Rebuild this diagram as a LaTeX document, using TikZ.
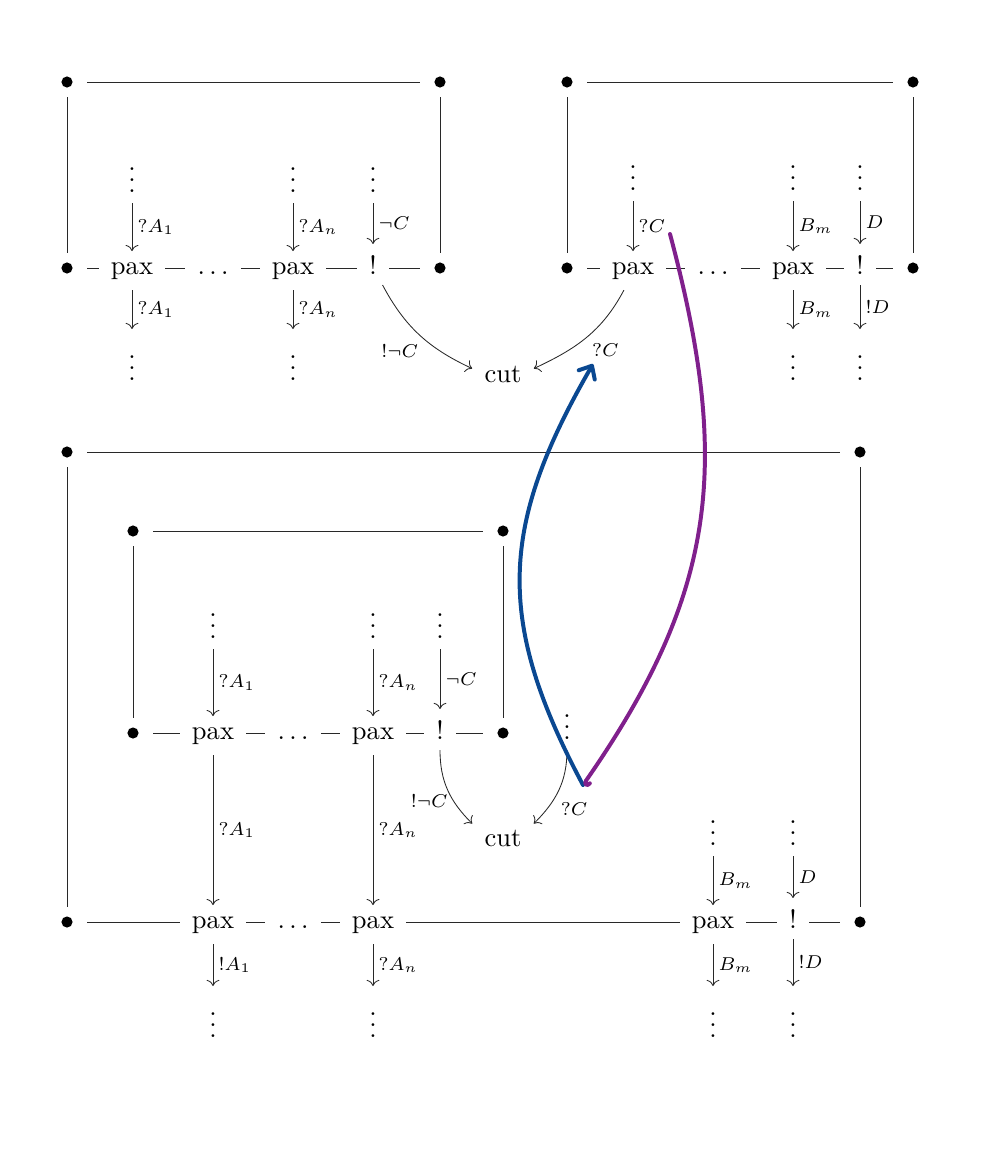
\documentclass[tikz,border=0pt]{standalone}
\usetikzlibrary{arrows.meta}
\definecolor{arcblue}{RGB}{10,72,145}
\definecolor{arcpurple}{RGB}{128,32,140}
\definecolor{linegray}{RGB}{40,40,40}
\begin{document}
\begin{tikzpicture}[x=0.377pt, y=-0.377pt, line width=0.32pt, draw=linegray,
  cell/.style={inner xsep=4.5pt, inner ysep=4pt, anchor=base},
  dot/.style={rectangle, inner sep=0pt, minimum width=15pt, minimum height=11pt,
    path picture={\fill[black] (path picture bounding box.center) circle (2.1pt);}},
  lab/.style={font=\scriptsize, inner sep=2pt},
  rl/.style={lab, anchor=west},
  arcb/.style={draw=arcblue, line width=1.5pt, line cap=round},
  arcp/.style={draw=arcpurple, line width=1.5pt, line cap=round}
]
\useasboundingbox (0,0) rectangle (1000,1150);

% ---------- top-left box ----------
\node[dot] (a1) at (67,82) {};
\node[dot] (a2) at (440,82) {};
\node[dot] (a3) at (67,268) {};
\node[dot] (a4) at (440,268) {};
\node[cell] (av1) at (132,192) {$\vdots$};
\node[cell] (av2) at (293,192) {$\vdots$};
\node[cell] (av3) at (373,192) {$\vdots$};
\node[cell] (ap1) at (132,274) {pax};
\node[cell] (adt) at (213,274) {$\dots$};
\node[cell] (ap2) at (293,274) {pax};
\node[cell] (ab) at (373,274) {!};
\node[cell] (aw1) at (132,380) {$\vdots$};
\node[cell] (aw2) at (293,380) {$\vdots$};
\node[cell] (cut1) at (503,382) {cut};

\draw (a1) -- (a2);
\draw (a1) -- (a3);
\draw (a2) -- (a4);
\draw (a3) -- (ap1.west |- a3);
\draw (ap1.east |- a3) -- (adt.west |- a3);
\draw (adt.east |- a3) -- (ap2.west |- a3);
\draw (ap2.east |- a3) -- (ab.west |- a3);
\draw (ab.east |- a3) -- (a4);
\draw[->] (av1) -- node[rl]{$?A_1$} (ap1);
\draw[->] (av2) -- node[rl]{$?A_n$} (ap2);
\draw[->] (av3) -- node[rl]{$\neg C$} (ab);
\draw[->] (ap1) -- node[rl]{$?A_1$} (aw1);
\draw[->] (ap2) -- node[rl]{$?A_n$} (aw2);
\draw[->] (ab.-65) to[out=-62,in=155] node[lab, pos=0.55, anchor=north east]{$!\neg C$} (cut1.170);

% ---------- top-right box ----------
\node[dot] (b1) at (567,82) {};
\node[dot] (b2) at (913,82) {};
\node[dot] (b3) at (567,268) {};
\node[dot] (b4) at (913,268) {};
\node[cell] (bv1) at (633,190) {$\vdots$};
\node[cell] (bv2) at (793,190) {$\vdots$};
\node[cell] (bv3) at (860,190) {$\vdots$};
\node[cell] (bp1) at (633,274) {pax};
\node[cell] (bdt) at (713,274) {$\dots$};
\node[cell] (bp2) at (793,274) {pax};
\node[cell] (bb) at (860,274) {!};
\node[cell] (bw2) at (793,380) {$\vdots$};
\node[cell] (bw3) at (860,380) {$\vdots$};

\draw (b1) -- (b2);
\draw (b1) -- (b3);
\draw (b2) -- (b4);
\draw (b3) -- (bp1.west |- b3);
\draw (bp1.east |- b3) -- (bdt.west |- b3);
\draw (bdt.east |- b3) -- (bp2.west |- b3);
\draw (bp2.east |- b3) -- (bb.west |- b3);
\draw (bb.east |- b3) -- (b4);
\draw[->] (bv1) -- node[rl]{$?C$} (bp1);
\draw[->] (bv2) -- node[rl]{$B_m$} (bp2);
\draw[->] (bv3) -- node[rl]{$D$} (bb);
\draw[->] (bp2) -- node[rl]{$B_m$} (bw2);
\draw[->] (bb) -- node[rl]{$!D$} (bw3);
\draw[->] (bp1.-115) to[out=-118,in=25] node[lab, pos=0.5, anchor=north west]{$?C$} (cut1.10);

% ---------- bottom box ----------
\node[dot] (c1) at (67,452) {};
\node[dot] (c2) at (860,452) {};
\node[dot] (c3) at (67,922) {};
\node[dot] (c4) at (860,922) {};
\node[dot] (i1) at (133,531) {};
\node[dot] (i2) at (503,531) {};
\node[dot] (i3) at (133,733) {};
\node[dot] (i4) at (503,733) {};
\node[cell] (iv1) at (213,638) {$\vdots$};
\node[cell] (iv2) at (373,638) {$\vdots$};
\node[cell] (iv3) at (440,638) {$\vdots$};
\node[cell] (ip1) at (213,739) {pax};
\node[cell] (idt) at (293,739) {$\dots$};
\node[cell] (ip2) at (373,739) {pax};
\node[cell] (ib) at (440,739) {!};
\node[cell] (iv4) at (567,739) {$\vdots$};
\node[cell] (cut2) at (503,846) {cut};
\node[cell] (cv1) at (713,845) {$\vdots$};
\node[cell] (cv2) at (793,845) {$\vdots$};
\node[cell] (cp1) at (213,928) {pax};
\node[cell] (cdt) at (293,928) {$\dots$};
\node[cell] (cp2) at (373,928) {pax};
\node[cell] (cp3) at (713,928) {pax};
\node[cell] (cb) at (793,928) {!};
\node[cell] (cw1) at (213,1037) {$\vdots$};
\node[cell] (cw2) at (373,1037) {$\vdots$};
\node[cell] (cw3) at (713,1037) {$\vdots$};
\node[cell] (cw4) at (793,1037) {$\vdots$};

\draw (c1) -- (c2);
\draw (c1) -- (c3);
\draw (c2) -- (c4);
\draw (i1) -- (i2);
\draw (i1) -- (i3);
\draw (i2) -- (i4);
\draw (i3) -- (ip1.west |- i3);
\draw (ip1.east |- i3) -- (idt.west |- i3);
\draw (idt.east |- i3) -- (ip2.west |- i3);
\draw (ip2.east |- i3) -- (ib.west |- i3);
\draw (ib.east |- i3) -- (i4);
\draw (c3) -- (cp1.west |- c3);
\draw (cp1.east |- c3) -- (cdt.west |- c3);
\draw (cdt.east |- c3) -- (cp2.west |- c3);
\draw (cp2.east |- c3) -- (cp3.west |- c3);
\draw (cp3.east |- c3) -- (cb.west |- c3);
\draw (cb.east |- c3) -- (c4);

\draw[->] (iv1) -- node[rl]{$?A_1$} (ip1);
\draw[->] (iv2) -- node[rl]{$?A_n$} (ip2);
\draw[->] (iv3) -- node[rl]{$\neg C$} (ib);
\draw[->] (ip1) -- node[rl]{$?A_1$} (cp1);
\draw[->] (ip2) -- node[rl]{$?A_n$} (cp2);
\draw[->] (ib.south) to[out=-90,in=135] node[lab, pos=0.65, anchor=east]{$!\neg C$} (cut2.155);
\draw[->] (iv4.south) to[out=-90,in=45] node[lab, pos=0.6, anchor=north west]{$?C$} (cut2.25);
\draw[->] (cv1) -- node[rl]{$B_m$} (cp3);
\draw[->] (cv2) -- node[rl]{$D$} (cb);
\draw[->] (cp1) -- node[rl]{$!A_1$} (cw1);
\draw[->] (cp2) -- node[rl]{$?A_n$} (cw2);
\draw[->] (cp3) -- node[rl]{$B_m$} (cw3);
\draw[->] (cb) -- node[rl]{$!D$} (cw4);

% ---------- coloured arcs ----------
\coordinate (bs) at (583,785);
\coordinate (be) at (593,364);
\coordinate (ps) at (670,234);
\draw[arcb, -{Straight Barb[round, length=4pt, width=7pt]}] (bs) .. controls +(-88,-165) and +(-93.5,162) .. (be);
\draw[arcp, -{Hooks[left, round, length=2pt, width=5pt]}] (ps) .. controls +(61,229) and +(134.5,-193.5) .. (bs);
\end{tikzpicture}
\end{document}
